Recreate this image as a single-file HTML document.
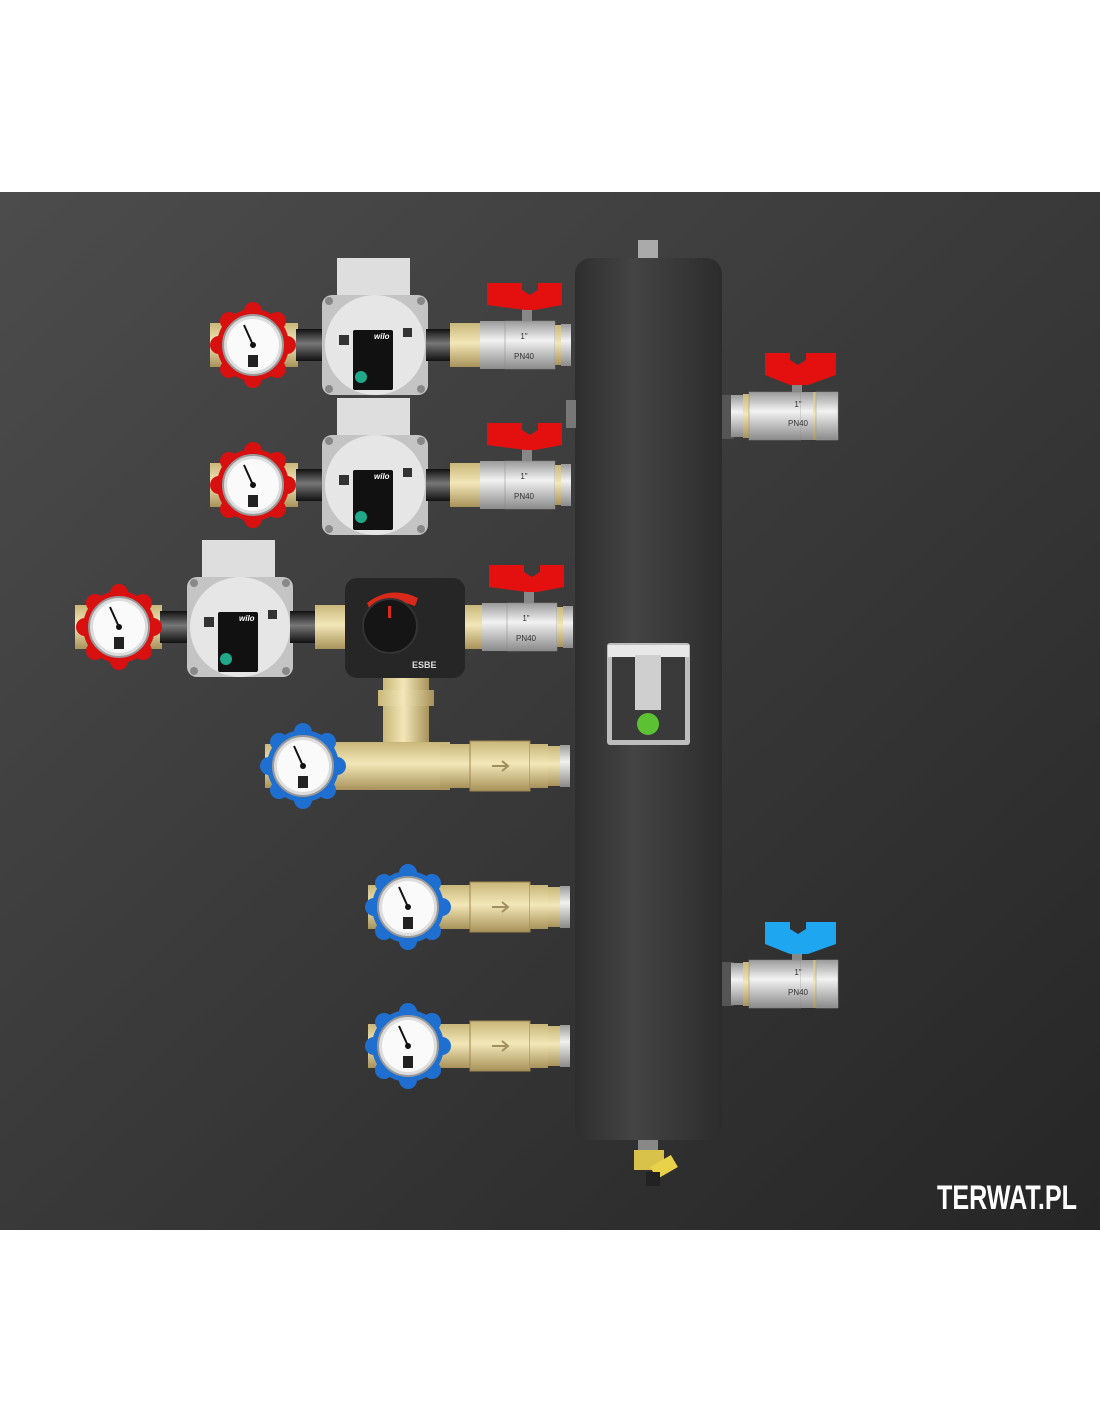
<!DOCTYPE html>
<html><head><meta charset="utf-8"><style>
html,body{margin:0;padding:0;background:#fff;}
svg{display:block;}
</style></head><body>
<svg width="1100" height="1422" viewBox="0 0 1100 1422" xmlns="http://www.w3.org/2000/svg" font-family="Liberation Sans, sans-serif">
<defs>
<linearGradient id="bg" x1="0" y1="0" x2="1" y2="1"><stop offset="0" stop-color="#4c4c4c"/><stop offset="1" stop-color="#262626"/></linearGradient>
<linearGradient id="col" x1="0" y1="0" x2="1" y2="0"><stop offset="0" stop-color="#2e2e2e"/><stop offset="0.4" stop-color="#444"/><stop offset="1" stop-color="#2c2c2c"/></linearGradient>
<linearGradient id="brass" x1="0" y1="0" x2="0" y2="1"><stop offset="0" stop-color="#c9b77a"/><stop offset="0.45" stop-color="#f3e7b8"/><stop offset="1" stop-color="#a8925a"/></linearGradient>
<linearGradient id="brassv" x1="0" y1="0" x2="1" y2="0"><stop offset="0" stop-color="#c9b77a"/><stop offset="0.45" stop-color="#f3e7b8"/><stop offset="1" stop-color="#a8925a"/></linearGradient>
<linearGradient id="silver" x1="0" y1="0" x2="0" y2="1"><stop offset="0" stop-color="#9a9a9a"/><stop offset="0.4" stop-color="#f2f2f2"/><stop offset="1" stop-color="#8a8a8a"/></linearGradient>
<linearGradient id="blk" x1="0" y1="0" x2="0" y2="1"><stop offset="0" stop-color="#111"/><stop offset="0.45" stop-color="#777"/><stop offset="1" stop-color="#111"/></linearGradient>
<g id="wheel">
 <circle r="36"/>
 <circle cx="0" cy="-34" r="9"/><circle cx="0" cy="34" r="9"/><circle cx="34" cy="0" r="9"/><circle cx="-34" cy="0" r="9"/>
 <circle cx="24" cy="24" r="9"/><circle cx="-24" cy="24" r="9"/><circle cx="24" cy="-24" r="9"/><circle cx="-24" cy="-24" r="9"/>
</g>
<g id="face">
 <circle r="30" fill="#ddd" stroke="#999" stroke-width="2"/>
 <circle r="26" fill="#fafafa"/>
 <line x1="0" y1="0" x2="-9" y2="-20" stroke="#111" stroke-width="2"/>
 <circle r="3" fill="#111"/>
 <rect x="-5" y="10" width="10" height="12" fill="#222"/>
</g>
<g id="pump">
 <rect x="-38" y="-87" width="73" height="45" fill="#dedede"/>
 <rect x="-53" y="-50" width="106" height="100" rx="10" fill="#c4c4c4"/>
 <circle r="50" fill="#e6e6e6"/>
 <circle cx="-46" cy="-44" r="4" fill="#888"/><circle cx="46" cy="-44" r="4" fill="#888"/><circle cx="-46" cy="44" r="4" fill="#888"/><circle cx="46" cy="44" r="4" fill="#888"/>
 <rect x="-22" y="-15" width="40" height="60" rx="2" fill="#111"/>
 <circle cx="-14" cy="32" r="6" fill="#1fa88a"/>
 <rect x="-36" y="-10" width="10" height="10" fill="#333"/>
 <rect x="28" y="-17" width="9" height="9" fill="#333"/>
</g>
<g id="valve">
 <rect x="0" y="-22" width="30" height="44" fill="url(#brass)"/>
 <rect x="30" y="-24" width="25" height="48" fill="url(#silver)"/>
 <rect x="55" y="-24" width="50" height="48" fill="url(#silver)" stroke="#888" stroke-width="0.5"/>
 <rect x="105" y="-20" width="6" height="40" fill="url(#brass)"/>
 <rect x="111" y="-21" width="10" height="42" fill="url(#silver)"/>
 <rect x="72" y="-38" width="10" height="14" fill="#888"/>
</g>
<g id="rvalve">
 <rect x="0" y="-21" width="12" height="42" fill="url(#silver)"/>
 <rect x="12" y="-22" width="6" height="44" fill="url(#brass)"/>
 <rect x="18" y="-24" width="52" height="48" fill="url(#silver)" stroke="#888" stroke-width="0.5"/>
 <rect x="70" y="-24" width="12" height="48" fill="url(#silver)"/>
 <rect x="82" y="-24" width="3" height="48" fill="url(#brass)"/>
 <rect x="85" y="-24" width="22" height="48" fill="url(#silver)" stroke="#999" stroke-width="0.5"/>
 <rect x="61" y="-38" width="10" height="14" fill="#888"/>
</g>
<g id="strainer">
 <rect x="0" y="-22" width="30" height="44" fill="url(#brass)"/>
 <rect x="30" y="-25" width="60" height="50" fill="url(#brass)" stroke="#9c8550" stroke-width="1"/>
 <rect x="90" y="-22" width="18" height="44" fill="url(#brass)"/>
 <rect x="108" y="-20" width="12" height="40" fill="url(#brass)"/>
 <rect x="120" y="-21" width="10" height="42" fill="url(#silver)"/>
 <path d="M52 0 H68 M62 -5 L68 0 L62 5" stroke="#a09060" stroke-width="2" fill="none"/>
</g>
</defs>

<rect x="0" y="192" width="1100" height="1038" fill="url(#bg)"/>

<rect x="638" y="240" width="20" height="20" fill="#aaa"/>
<rect x="575" y="258" width="147" height="882" rx="16" fill="url(#col)"/>
<rect x="566" y="400" width="10" height="28" fill="#777"/>
<rect x="722" y="395" width="12" height="44" fill="#555"/>
<rect x="722" y="962" width="12" height="44" fill="#555"/>
<rect x="607" y="643" width="83" height="102" rx="3" fill="#bdbdbd"/>
<rect x="612" y="657" width="73" height="83" fill="#3a3a3a"/>
<rect x="608" y="645" width="81" height="12" fill="#e8e8e8"/>
<rect x="635" y="655" width="26" height="55" fill="#cfcfcf"/>
<circle cx="648" cy="724" r="11" fill="#5cc234"/>
<rect x="638" y="1140" width="20" height="12" fill="#888"/>
<rect x="634" y="1150" width="30" height="20" fill="#d8c24a"/>
<rect x="652" y="1160" width="24" height="14" fill="#e8d24a" transform="rotate(-30 664 1167)"/>
<rect x="646" y="1172" width="14" height="14" fill="#222"/>

<rect x="210" y="323" width="22" height="44" fill="url(#brass)"/>
<rect x="276" y="323" width="22" height="44" fill="url(#brass)"/>
<rect x="296" y="329" width="28" height="32" fill="url(#blk)"/>
<use href="#wheel" x="253" y="345" fill="#d81010"/>
<use href="#face" x="253" y="345"/>
<use href="#pump" x="375" y="345"/>
<rect x="426" y="329" width="26" height="32" fill="url(#blk)"/>
<use href="#valve" x="450" y="345"/>
<path d="M487 283 H522 L522 290 L530 295 L538 290 V283 H562 V305 L535 310 L525 310 L487 305 Z" fill="#e41010"/>
<text x="524" y="339" font-size="8" fill="#333" text-anchor="middle">1"</text>
<text x="524" y="359" font-size="8" fill="#333" text-anchor="middle">PN40</text>
<text x="374" y="339" font-size="8" fill="#fff" font-style="italic" font-weight="bold">wilo</text>

<rect x="210" y="463" width="22" height="44" fill="url(#brass)"/>
<rect x="276" y="463" width="22" height="44" fill="url(#brass)"/>
<rect x="296" y="469" width="28" height="32" fill="url(#blk)"/>
<use href="#wheel" x="253" y="485" fill="#d81010"/>
<use href="#face" x="253" y="485"/>
<use href="#pump" x="375" y="485"/>
<rect x="426" y="469" width="26" height="32" fill="url(#blk)"/>
<use href="#valve" x="450" y="485"/>
<path d="M487 423 H522 L522 430 L530 435 L538 430 V423 H562 V445 L535 450 L525 450 L487 445 Z" fill="#e41010"/>
<text x="524" y="479" font-size="8" fill="#333" text-anchor="middle">1"</text>
<text x="524" y="499" font-size="8" fill="#333" text-anchor="middle">PN40</text>
<text x="374" y="479" font-size="8" fill="#fff" font-style="italic" font-weight="bold">wilo</text>

<rect x="75" y="605" width="22" height="44" fill="url(#brass)"/>
<rect x="140" y="605" width="22" height="44" fill="url(#brass)"/>
<rect x="160" y="611" width="28" height="32" fill="url(#blk)"/>
<use href="#wheel" x="119" y="627" fill="#d81010"/>
<use href="#face" x="119" y="627"/>
<use href="#pump" x="240" y="627"/>
<rect x="290" y="611" width="30" height="32" fill="url(#blk)"/>
<rect x="315" y="605" width="32" height="44" fill="url(#brass)"/>
<use href="#valve" x="452" y="627"/>
<path d="M489 565 H524 L524 572 L532 577 L540 572 V565 H564 V587 L537 592 L527 592 L489 587 Z" fill="#e41010"/>
<text x="526" y="621" font-size="8" fill="#333" text-anchor="middle">1"</text>
<text x="526" y="641" font-size="8" fill="#333" text-anchor="middle">PN40</text>
<text x="239" y="621" font-size="8" fill="#fff" font-style="italic" font-weight="bold">wilo</text>
<rect x="345" y="578" width="120" height="100" rx="12" fill="#262626"/>
<path d="M367 603 Q390 585 418 598 L415 606 Q390 596 370 610 Z" fill="#d82a1a"/>
<circle cx="390" cy="626" r="27" fill="#151515" stroke="#333" stroke-width="2"/>
<rect x="388" y="606" width="3" height="12" fill="#d82a1a"/>
<text x="412" y="668" font-size="9" fill="#ddd" font-weight="bold">ESBE</text>

<rect x="383" y="678" width="46" height="68" fill="url(#brassv)"/>
<rect x="378" y="690" width="56" height="16" fill="url(#brassv)"/>
<rect x="265" y="744" width="40" height="44" fill="url(#brass)"/>
<rect x="330" y="742" width="120" height="48" fill="url(#brass)"/>
<use href="#strainer" x="440" y="766"/>
<use href="#wheel" x="303" y="766" fill="#1f6fd0"/>
<use href="#face" x="303" y="766"/>

<rect x="368" y="885" width="30" height="44" fill="url(#brass)"/>
<use href="#strainer" x="440" y="907"/>
<rect x="430" y="885" width="14" height="44" fill="url(#brass)"/>
<use href="#wheel" x="408" y="907" fill="#1f6fd0"/>
<use href="#face" x="408" y="907"/>

<rect x="368" y="1024" width="30" height="44" fill="url(#brass)"/>
<use href="#strainer" x="440" y="1046"/>
<rect x="430" y="1024" width="14" height="44" fill="url(#brass)"/>
<use href="#wheel" x="408" y="1046" fill="#1f6fd0"/>
<use href="#face" x="408" y="1046"/>

<use href="#rvalve" x="731" y="416"/>
<path d="M765 353 H790 L790 360 L798 365 L806 360 V353 H836 V375 L808 385 L790 385 L765 375 Z" fill="#e41010"/>
<text x="798" y="407" font-size="8" fill="#333" text-anchor="middle">1"</text>
<text x="798" y="426" font-size="8" fill="#333" text-anchor="middle">PN40</text>

<use href="#rvalve" x="731" y="984"/>
<path d="M765 922 H790 L790 929 L798 934 L806 929 V922 H836 V944 L808 954 L790 954 L765 944 Z" fill="#1fa6f0"/>
<text x="798" y="975" font-size="8" fill="#333" text-anchor="middle">1"</text>
<text x="798" y="995" font-size="8" fill="#333" text-anchor="middle">PN40</text>

<text x="1077" y="1209" font-size="34" font-weight="bold" fill="#fff" text-anchor="end" textLength="140" lengthAdjust="spacingAndGlyphs">TERWAT.PL</text>
</svg>
</body></html>
